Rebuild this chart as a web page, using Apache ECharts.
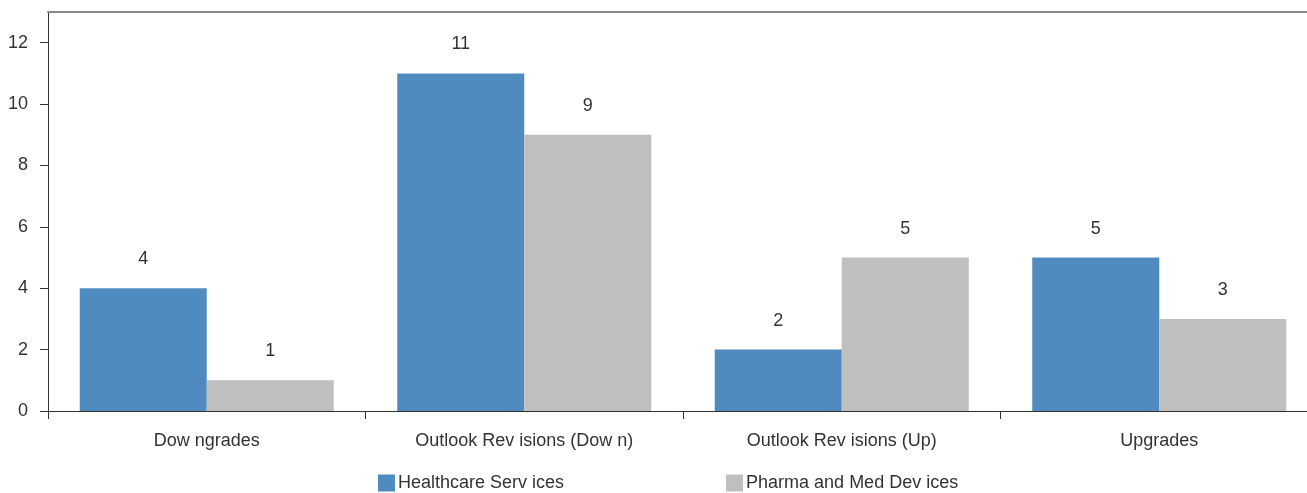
<!DOCTYPE html>
<html>
<head>
<meta charset="utf-8">
<script src="https://cdn.jsdelivr.net/npm/echarts@6/dist/echarts.min.js"></script>
<style>html,body{margin:0;padding:0;background:#fff}#c{width:1307px;height:493px}</style>
</head>
<body>
<div id="c"></div>
<script>
const categories = ['Dow ngrades', 'Outlook Rev isions (Dow n)', 'Outlook Rev isions (Up)', 'Upgrades'];
const seriesNames = ['Healthcare Serv ices', 'Pharma and Med Dev ices'];
const healthcare = [4, 11, 2, 5];
const pharma = [1, 9, 5, 3];
const yTicks = [0, 2, 4, 6, 8, 10, 12];

const FONT = '"Liberation Sans Narrow", "Arial Narrow", "Liberation Sans", sans-serif';
const chart = echarts.init(document.getElementById('c'));
chart.setOption({
  animation: false,
  textStyle: { fontFamily: FONT },
  grid: { left: 48, width: 1270, top: 12, bottom: 82, containLabel: false, outerBoundsMode: 'none' },
  legend: {
    bottom: 1,
    left: 378,
    padding: 0,
    itemWidth: 17,
    itemHeight: 17,
    itemGap: 162,
    icon: 'rect',
    textStyle: { fontFamily: FONT, fontSize: 18, color: '#333', padding: [0, 0, 0, -2] },
    data: seriesNames
  },
  xAxis: [{
    type: 'category',
    data: categories,
    axisLine: { lineStyle: { color: '#333', width: 1 } },
    axisTick: { show: true, length: 8, lineStyle: { color: '#333' } },
    axisLabel: { fontFamily: FONT, fontSize: 18, color: '#333', margin: 21 }
  }, {
    type: 'category',
    data: categories,
    position: 'top',
    axisLine: { lineStyle: { color: '#888', width: 2 } },
    axisTick: { show: false },
    axisLabel: { show: false }
  }],
  yAxis: {
    type: 'value',
    min: 0,
    max: 13,
    interval: 1,
    splitLine: { show: false },
    axisLine: { show: true, lineStyle: { color: '#333', width: 1 } },
    axisTick: { show: true, length: 8, lineStyle: { color: '#333' }, customValues: yTicks },
    axisLabel: { fontFamily: FONT, fontSize: 18, color: '#333', margin: 20, customValues: yTicks }
  },
  series: [{
    name: seriesNames[0],
    type: 'bar',
    data: healthcare,
    barGap: '0%',
    barCategoryGap: '20%',
    itemStyle: { color: '#4F8BBF' },
    label: { show: true, position: 'top', distance: 20, fontFamily: FONT, fontSize: 18, color: '#333' }
  }, {
    name: seriesNames[1],
    type: 'bar',
    data: pharma,
    barGap: '0%',
    barCategoryGap: '20%',
    itemStyle: { color: '#BFBFBF' },
    label: { show: true, position: 'top', distance: 20, fontFamily: FONT, fontSize: 18, color: '#333' }
  }]
});
</script>
</body>
</html>
